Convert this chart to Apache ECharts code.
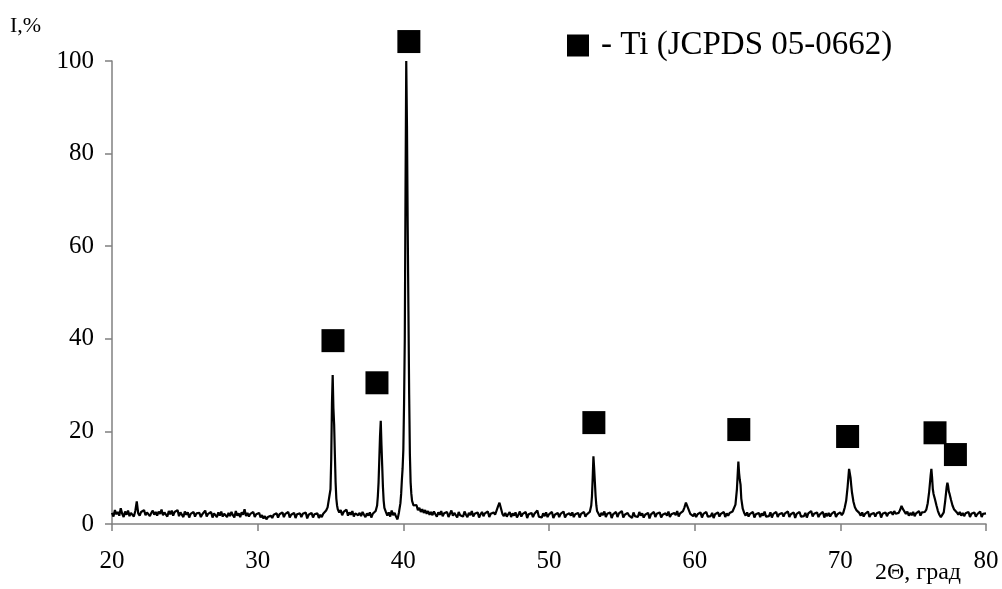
<!DOCTYPE html>
<html>
<head>
<meta charset="utf-8">
<script src="https://cdn.jsdelivr.net/npm/echarts@6/dist/echarts.min.js"></script>
<style>html,body{margin:0;padding:0;background:#fff;}#chart{width:1002px;height:589px;}</style>
</head>
<body>
<div id="chart"></div>
<script>
// XRD pattern: [2Theta, I %]
const pattern = [
[20.0,2.4],[20.1,1.6],[20.2,3.0],[20.3,2.1],[20.4,2.6],[20.5,1.8],[20.6,3.4],[20.7,2.2],[20.8,1.5],[20.9,2.7],
[21.0,2.0],[21.1,2.9],[21.2,1.7],[21.3,2.4],[21.4,2.1],[21.5,1.6],[21.6,2.8],[21.7,4.9],[21.8,2.3],[21.9,1.8],
[22.0,2.6],[22.1,2.2],[22.2,3.0],[22.3,1.9],[22.4,2.5],[22.5,2.8],[22.6,1.7],[22.7,2.4],[22.8,2.9],[22.9,2.0],
[23.0,2.6],[23.1,1.8],[23.2,2.7],[23.3,2.2],[23.4,3.1],[23.5,1.9],[23.6,2.5],[23.7,2.3],[23.8,1.6],[23.9,2.8],
[24.0,2.1],[24.1,2.9],[24.2,1.8],[24.3,2.6],[24.4,2.4],[24.5,3.0],[24.6,1.7],[24.7,2.5],[24.8,2.2],[24.9,1.5],
[25.0,2.7],[25.1,2.0],[25.2,2.5],[25.3,1.4],[25.4,2.2],[25.5,1.9],[25.6,2.6],[25.7,1.6],[25.8,2.3],[25.9,1.9],
[26.0,2.4],[26.1,1.5],[26.2,2.1],[26.3,1.8],[26.4,2.9],[26.5,1.6],[26.6,2.2],[26.7,1.9],[26.8,2.6],[26.9,1.4],
[27.0,2.3],[27.1,2.0],[27.2,1.5],[27.3,2.5],[27.4,1.8],[27.5,2.7],[27.6,1.6],[27.7,2.2],[27.8,2.0],[27.9,1.5],
[28.0,2.4],[28.1,1.7],[28.2,2.6],[28.3,1.9],[28.4,1.4],[28.5,2.8],[28.6,1.8],[28.7,2.3],[28.8,1.5],[28.9,2.5],
[29.0,2.0],[29.1,3.2],[29.2,1.7],[29.3,2.4],[29.4,1.6],[29.5,2.2],[29.6,1.9],[29.7,2.6],[29.8,1.5],[29.9,2.1],
[30.0,1.8],[30.1,2.4],[30.2,1.4],[30.3,1.9],[30.4,1.2],[30.5,1.7],[30.6,1.0],[30.7,1.5],[30.8,1.1],[30.9,1.8],
[31.0,1.3],[31.1,2.0],[31.2,1.6],[31.3,2.3],[31.4,1.4],[31.5,2.1],[31.6,1.7],[31.7,2.5],[31.8,1.5],[31.9,2.2],
[32.0,1.8],[32.1,2.6],[32.2,1.4],[32.3,2.0],[32.4,1.6],[32.5,2.4],[32.6,1.3],[32.7,2.1],[32.8,1.7],[32.9,2.3],
[33.0,1.5],[33.1,2.2],[33.2,1.8],[33.3,2.5],[33.4,1.2],[33.5,2.0],[33.6,1.6],[33.7,2.4],[33.8,1.4],[33.9,2.1],
[34.0,1.7],[34.1,2.3],[34.2,1.3],[34.3,2.0],[34.4,1.5],[34.5,2.2],[34.6,1.8],[34.7,2.9],[34.8,3.6],[34.9,4.0],
[35.0,7.5],[35.05,14.0],[35.1,26.0],[35.15,32.2],[35.2,25.0],[35.25,21.5],[35.3,15.0],[35.35,9.0],[35.4,5.5],[35.45,4.0],[35.5,3.2],
[35.6,2.5],[35.7,3.0],[35.8,1.9],[35.9,2.6],[36.0,2.2],[36.1,3.1],[36.2,1.8],[36.3,2.5],[36.4,2.0],[36.5,2.8],
[36.6,1.6],[36.7,2.3],[36.8,2.7],[36.9,1.9],[37.0,2.4],[37.1,1.7],[37.2,2.6],[37.3,2.0],[37.4,1.5],[37.5,2.3],
[37.6,1.8],[37.7,2.5],[37.8,1.4],[37.9,2.2],[38.0,1.9],[38.1,2.8],
[38.2,4.0],[38.25,6.0],[38.3,9.0],[38.35,14.0],[38.4,19.0],[38.45,22.3],[38.5,17.0],[38.55,12.5],[38.6,8.0],[38.65,5.0],[38.7,3.5],[38.8,2.6],
[38.9,1.8],[39.0,2.5],[39.1,1.6],[39.2,2.9],[39.3,1.9],[39.4,2.4],[39.5,1.6],[39.6,1.0],[39.7,2.5],[39.8,4.5],
[39.85,6.5],[39.9,9.5],[39.95,12.0],[40.0,16.0],[40.05,26.0],[40.1,40.0],[40.15,72.0],[40.2,100.0],[40.25,86.0],[40.3,64.0],
[40.35,46.0],[40.4,28.0],[40.45,15.0],[40.5,9.0],[40.55,6.5],[40.6,5.0],[40.7,4.0],[40.8,3.6],[40.9,4.1],[41.0,3.0],
[41.1,3.5],[41.2,2.6],[41.3,3.2],[41.4,2.4],[41.5,3.0],[41.6,2.2],[41.7,2.8],[41.8,2.0],[41.9,2.6],[42.0,1.9],
[42.1,2.7],[42.2,2.1],[42.3,1.6],[42.4,2.5],[42.5,2.0],[42.6,2.8],[42.7,1.7],[42.8,2.3],[42.9,1.9],[43.0,2.6],
[43.1,1.5],[43.2,2.2],[43.3,2.9],[43.4,1.8],[43.5,2.4],[43.6,2.0],[43.7,1.4],[43.8,2.6],[43.9,1.9],[44.0,2.3],
[44.1,1.6],[44.2,2.7],[44.3,2.0],[44.4,1.5],[44.5,2.4],[44.6,1.9],[44.7,2.8],[44.8,1.6],[44.9,2.2],[45.0,1.8],
[45.1,2.5],[45.2,1.4],[45.3,2.1],[45.4,2.6],[45.5,1.7],[45.6,2.3],[45.7,1.9],[45.8,2.7],[45.9,1.5],[46.0,2.2],
[46.1,1.8],[46.2,2.5],[46.3,2.0],[46.4,2.9],[46.5,3.8],[46.6,4.6],[46.7,3.4],[46.8,2.2],[46.9,1.7],[47.0,2.4],
[47.1,1.6],[47.2,2.1],[47.3,2.6],[47.4,1.5],[47.5,2.3],[47.6,1.8],[47.7,2.5],[47.8,1.4],[47.9,2.0],[48.0,2.7],
[48.1,1.6],[48.2,2.2],[48.3,1.9],[48.4,2.6],[48.5,1.3],[48.6,2.1],[48.7,1.7],[48.8,2.4],[48.9,1.5],[49.0,2.2],
[49.1,1.8],[49.2,2.9],[49.3,1.6],[49.4,2.0],[49.5,1.4],[49.6,2.3],[49.7,1.7],[49.8,2.5],[49.9,1.5],[50.0,2.1],
[50.1,1.8],[50.2,2.6],[50.3,1.3],[50.4,2.0],[50.5,1.7],[50.6,2.4],[50.7,1.5],[50.8,2.2],[50.9,1.9],[51.0,2.7],
[51.1,1.4],[51.2,2.0],[51.3,1.6],[51.4,2.3],[51.5,1.8],[51.6,2.5],[51.7,1.5],[51.8,2.1],[51.9,1.7],[52.0,2.4],
[52.1,1.4],[52.2,2.2],[52.3,1.8],[52.4,2.6],[52.5,1.6],[52.6,2.1],[52.7,2.4],[52.8,2.6],[52.9,4.0],[52.95,6.0],
[53.0,10.0],[53.05,14.6],[53.1,12.0],[53.15,9.0],[53.2,6.0],[53.25,4.0],[53.3,2.8],[53.4,2.2],
[53.5,1.6],[53.6,2.4],[53.7,1.9],[53.8,2.7],[53.9,1.5],[54.0,2.2],[54.1,1.8],[54.2,2.5],[54.3,1.3],[54.4,2.1],
[54.5,1.7],[54.6,2.6],[54.7,1.5],[54.8,2.3],[54.9,1.9],[55.0,2.8],[55.1,1.4],[55.2,2.0],[55.3,1.6],[55.4,2.4],
[55.5,1.8],[55.6,2.2],[55.7,1.3],[55.8,2.5],[55.9,1.7],[56.0,2.1],[56.1,1.5],[56.2,2.6],[56.3,1.8],[56.4,2.3],
[56.5,1.4],[56.6,2.0],[56.7,1.7],[56.8,2.4],[56.9,1.2],[57.0,2.1],[57.1,1.8],[57.2,2.6],[57.3,1.5],[57.4,2.2],
[57.5,1.9],[57.6,2.5],[57.7,1.4],[57.8,2.0],[57.9,1.6],[58.0,2.3],[58.1,1.8],[58.2,2.7],[58.3,1.5],[58.4,2.1],
[58.5,1.7],[58.6,2.4],[58.7,1.9],[58.8,2.8],[58.9,1.6],[59.0,2.3],[59.1,2.0],[59.2,2.8],[59.3,3.6],[59.4,4.6],
[59.5,3.8],[59.6,3.0],[59.7,2.2],[59.8,2.6],[59.9,1.7],[60.0,2.3],[60.1,1.5],[60.2,2.1],[60.3,1.8],[60.4,2.5],
[60.5,1.4],[60.6,2.2],[60.7,1.9],[60.8,2.6],[60.9,1.6],[61.0,2.0],[61.1,1.7],[61.2,2.4],[61.3,1.3],[61.4,2.1],
[61.5,1.8],[61.6,2.5],[61.7,1.6],[61.8,2.2],[61.9,1.9],[62.0,2.6],[62.1,1.5],[62.2,2.3],[62.3,1.8],[62.4,2.4],
[62.5,2.0],[62.6,2.7],[62.7,2.8],[62.8,4.2],[62.9,7.5],[62.95,10.5],[63.0,13.5],[63.05,11.0],[63.1,9.5],[63.15,8.5],
[63.2,5.5],[63.3,3.3],[63.4,2.4],[63.5,1.8],[63.6,2.5],[63.7,1.6],[63.8,2.2],[63.9,1.9],[64.0,2.6],[64.1,1.4],
[64.2,2.1],[64.3,1.7],[64.4,2.4],[64.5,1.5],[64.6,2.3],[64.7,1.8],[64.8,2.7],[64.9,1.6],[65.0,2.0],[65.1,1.7],
[65.2,2.5],[65.3,1.4],[65.4,2.2],[65.5,1.9],[65.6,2.6],[65.7,1.5],[65.8,2.1],[65.9,1.8],[66.0,2.4],[66.1,1.6],
[66.2,2.3],[66.3,1.9],[66.4,2.7],[66.5,1.5],[66.6,2.1],[66.7,1.7],[66.8,2.5],[66.9,1.3],[67.0,2.2],[67.1,1.8],
[67.2,2.6],[67.3,1.6],[67.4,2.0],[67.5,1.7],[67.6,2.4],[67.7,1.4],[67.8,2.3],[67.9,1.9],[68.0,2.8],[68.1,1.6],
[68.2,2.2],[68.3,1.8],[68.4,2.5],[68.5,1.5],[68.6,2.1],[68.7,1.9],[68.8,2.6],[68.9,1.4],[69.0,2.3],[69.1,1.7],
[69.2,2.4],[69.3,1.6],[69.4,2.2],[69.5,1.9],[69.6,2.7],[69.7,1.5],[69.8,2.1],[69.9,1.8],[70.0,2.5],[70.1,1.9],
[70.2,2.4],[70.3,3.5],[70.4,5.0],[70.5,8.0],[70.6,11.9],[70.65,11.5],[70.7,10.0],[70.75,8.3],[70.8,6.8],[70.9,4.8],
[71.0,3.6],[71.1,3.0],[71.2,2.6],[71.3,2.4],[71.4,1.8],[71.5,2.5],[71.6,1.6],[71.7,2.2],[71.8,1.9],[71.9,2.7],
[72.0,1.5],[72.1,2.1],[72.2,1.8],[72.3,2.4],[72.4,1.6],[72.5,2.3],[72.6,1.9],[72.7,2.6],[72.8,1.4],[72.9,2.2],
[73.0,1.8],[73.1,2.5],[73.2,1.7],[73.3,2.3],[73.4,1.9],[73.5,2.6],[73.6,2.0],[73.7,2.8],[73.8,2.2],[73.9,2.6],
[74.0,2.4],[74.1,3.0],[74.2,3.9],[74.3,3.2],[74.4,2.8],[74.5,2.2],[74.6,2.7],[74.7,1.8],[74.8,2.4],[74.9,1.9],
[75.0,2.6],[75.1,1.7],[75.2,2.3],[75.3,2.0],[75.4,2.8],[75.5,1.8],[75.6,2.5],[75.7,2.1],[75.8,2.6],[75.9,3.1],
[76.0,4.5],[76.1,7.0],[76.2,10.5],[76.25,11.9],[76.3,10.0],[76.35,7.5],[76.4,6.5],[76.5,5.3],[76.6,4.0],[76.7,2.8],
[76.8,2.0],[76.9,1.5],[77.0,1.2],[77.1,2.5],[77.2,5.0],[77.3,8.0],[77.35,8.9],[77.4,8.2],[77.45,7.0],[77.5,6.5],
[77.6,5.2],[77.7,4.0],[77.8,3.2],[77.9,2.8],[78.0,2.5],[78.1,2.0],[78.2,2.6],[78.3,1.8],[78.4,2.4],[78.5,1.7],
[78.6,2.3],[78.7,1.9],[78.8,2.6],[78.9,1.5],[79.0,2.2],[79.1,1.8],[79.2,2.5],[79.3,1.6],[79.4,2.1],[79.5,1.9],
[79.6,2.7],[79.7,1.5],[79.8,2.2],[79.9,1.8],[80.0,2.3]
];

// Ti (JCPDS 05-0662) markers
const markerAngles = [35.17, 38.19, 40.38, 53.08, 63.03, 70.5, 76.5, 77.9];
const markerHeights = [39.6, 30.5, 104.2, 21.9, 20.4, 18.9, 19.7, 15.0];

const xTicks = [20, 30, 40, 50, 60, 70, 80];
const yTicks = [0, 20, 40, 60, 80, 100];

const legendLabel = '- Ti (JCPDS 05-0662)';
const xName = '2\u0398, \u0433\u0440\u0430\u0434';
const yName = 'I,%';

const font = "'Liberation Serif', 'Times New Roman', serif";
const axisGray = '#808080';

const chart = echarts.init(document.getElementById('chart'), null, {renderer: 'canvas'});
chart.setOption({
  animation: false,
  backgroundColor: '#fff',
  grid: {left: 112, right: 16, top: 61, bottom: 65, containLabel: false},
  legend: {
    left: 562, top: 24,
    itemWidth: 22, itemHeight: 22, itemGap: 10,
    icon: 'rect',
    data: [legendLabel],
    itemStyle: {opacity: 1},
    textStyle: {fontFamily: font, fontSize: 33, color: '#000', padding: [0, 0, 0, 7]}
  },
  graphic: [
    {type: 'text', left: 10, top: 15, style: {text: yName, font: "22px " + font, fill: '#000'}},
    {type: 'text', left: 875, top: 561, style: {text: xName, font: "24px " + font, fill: '#000'}}
  ],
  xAxis: {
    type: 'value',
    min: xTicks[0], max: xTicks[xTicks.length - 1], interval: 10,
    axisLine: {show: true, onZero: false, lineStyle: {color: axisGray, width: 1.5}},
    axisTick: {show: true, inside: false, length: 7, lineStyle: {color: axisGray, width: 1.5}},
    axisLabel: {fontFamily: font, fontSize: 25, color: '#000', margin: 25},
    splitLine: {show: false}
  },
  yAxis: {
    type: 'value',
    min: yTicks[0], max: yTicks[yTicks.length - 1], interval: 20,
    axisLine: {show: true, lineStyle: {color: axisGray, width: 1.5}},
    axisTick: {show: true, inside: false, length: 7, lineStyle: {color: axisGray, width: 1.5}},
    axisLabel: {fontFamily: font, fontSize: 25, color: '#000', margin: 18},
    splitLine: {show: false}
  },
  series: [
    {
      type: 'line',
      name: 'XRD',
      data: pattern,
      showSymbol: false,
      symbol: 'none',
      sampling: 'none',
      lineStyle: {color: '#000', width: 2.2},
      z: 2
    },
    {
      type: 'scatter',
      name: legendLabel,
      data: markerAngles.map((a, i) => [a, markerHeights[i]]),
      symbol: 'rect',
      symbolSize: 23,
      itemStyle: {color: '#000', opacity: 1},
      clip: false,
      z: 3
    }
  ]
});
</script>
</body>
</html>
